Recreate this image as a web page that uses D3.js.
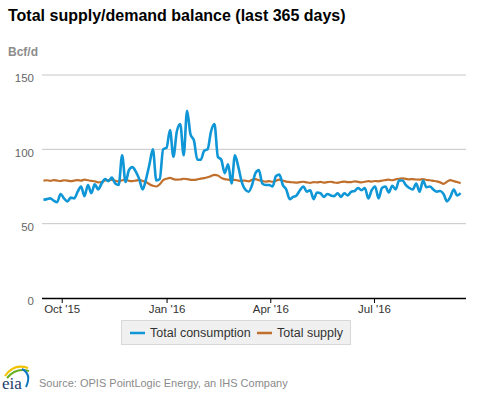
<!DOCTYPE html>
<html>
<head>
<meta charset="utf-8">
<script src="https://cdn.jsdelivr.net/npm/d3@7"></script>
<style>
  body { margin: 0; background: #fff; }
  svg { display: block; font-family: "Liberation Sans", Arial, sans-serif; }
</style>
</head>
<body>
<div id="chart"></div>
<script>
// Total supply/demand balance, last 365 days (one value every 3 days)

var start_date = new Date(2015, 8, 15);
var step_days = 3;

var consumption = [
  66, 66.5, 67, 65.5, 64.5, 70, 67, 65, 67.5, 67,
  71.5, 75, 68.5, 76, 70.5, 76.5, 73, 77, 80, 78.5,
  81, 77, 76, 96, 78, 86, 88, 85, 80, 73,
  80, 90, 100, 79, 80, 100, 101, 113, 95, 112,
  117, 96, 126, 110, 106, 93, 93, 99, 100, 112,
  117, 95, 93, 84, 90, 77, 96, 88, 78, 73,
  71.5, 76, 84, 86, 77, 76, 76, 75, 82, 83,
  76, 73, 66.5, 68, 69, 72.5, 75, 71.5, 72.5, 66.5,
  71, 70.5, 68, 70, 69, 68.5, 70.5, 68, 70.5, 69,
  71.5, 72, 74, 72.5, 74, 67, 72.5, 75, 67, 74,
  75, 71, 75.5, 73, 79, 79, 76, 74, 73, 77,
  71.5, 79, 74.5, 75, 73, 71.5, 72, 70, 65, 68,
  73, 69, 70.5
];

var supply = [
  79, 79.2, 78.8, 79.3, 79, 78.7, 79.2, 79, 78.6, 79,
  79.3, 79, 79.6, 79.2, 78.8, 78.5, 77.8, 78, 79, 79.3,
  79.5, 78.9, 78.3, 79.2, 79.5, 78.8, 78.6, 79, 79.4, 78.7,
  78, 76.5, 75.5, 75, 76.5, 79.3, 80.2, 80.8, 80, 79.6,
  79.7, 80.2, 80, 79.5, 79.4, 79.8, 80.3, 80.6, 81.2, 82,
  82.8, 82.4, 80.8, 80, 79.6, 79.2, 79.5, 79, 78.8, 79,
  78.5, 79.5, 80, 79.2, 78.7, 78.3, 78.6, 78.2, 78.8, 79.6,
  79, 78.3, 78, 77.8, 77.6, 78, 78.2, 77.8, 77.5, 77.9,
  77.8, 78.1, 77.6, 77.9, 78.2, 77.7, 77.5, 78, 78.3, 77.9,
  78, 78.4, 78.1, 77.8, 78.2, 78.6, 78.3, 78.7, 78.5, 79,
  79.3, 79.6, 79.2, 79.8, 80.2, 80.5, 80.1, 79.8, 80, 79.7,
  79.6, 80, 79.4, 79.2, 78.8, 78.4, 77.8, 76.8, 78.2, 79.3,
  78.6, 78, 77.3
];

var y_ticks = [0, 50, 100, 150];
var series_names = ["Total consumption", "Total supply"];
var series_colors = ["#0f96d6", "#c0702c"];

var width = 477;
var height = 393;

var plot_left = 42;
var plot_right = 466;
var plot_top = 75;
var plot_bottom = 298;

var svg = d3
  .select("#chart")
  .append("svg")
  .attr("width", width)
  .attr("height", height);

svg.append("rect").attr("width", width).attr("height", height).attr("fill", "#fff");

// title + unit
svg.append("text")
  .attr("x", 8)
  .attr("y", 21)
  .attr("font-size", 16)
  .attr("font-weight", "bold")
  .attr("fill", "#000")
  .text("Total supply/demand balance (last 365 days)");

svg.append("text")
  .attr("x", 8)
  .attr("y", 56)
  .attr("font-size", 12)
  .attr("font-weight", "bold")
  .attr("fill", "#8c8c8c")
  .text("Bcf/d");

// scales
var xScale = d3
  .scaleTime()
  .domain([new Date(2015, 8, 13, 17), new Date(2016, 8, 19, 17)])
  .range([plot_left, plot_right]);

var yScale = d3
  .scaleLinear()
  .domain([0, 150])
  .range([plot_bottom, plot_top]);

function dateAt(i) {
  return d3.timeDay.offset(start_date, i * step_days);
}

// grid lines
svg.append("g")
  .selectAll("line")
  .data(y_ticks.filter(function(d) { return d > 0; }))
  .enter()
  .append("line")
  .attr("x1", plot_left)
  .attr("x2", plot_right)
  .attr("y1", function(d) { return yScale(d); })
  .attr("y2", function(d) { return yScale(d); })
  .attr("stroke", "#c6c6c6")
  .attr("stroke-width", 1);

// y labels
var yAxis = d3.axisLeft(yScale).tickValues(y_ticks).tickSize(0).tickPadding(8);
var yG = svg.append("g")
  .attr("transform", "translate(" + plot_left + ",0)")
  .call(yAxis);
yG.select(".domain").remove();
yG.selectAll("text")
  .attr("font-size", 11.5)
  .attr("font-family", "Liberation Sans, Arial, sans-serif")
  .attr("fill", "#666")
  .attr("dy", "0.6em");

// x axis
var xAxis = d3
  .axisBottom(xScale)
  .ticks(d3.timeMonth.every(3))
  .tickFormat(d3.timeFormat("%b '%y"))
  .tickSize(5)
  .tickPadding(2);

var xG = svg.append("g")
  .attr("transform", "translate(0," + plot_bottom + ")")
  .call(xAxis);
xG.select(".domain")
  .attr("d", "M" + plot_left + ",0.5H" + plot_right)
  .attr("stroke", "#000")
  .attr("stroke-width", 1.5);
xG.selectAll(".tick line").attr("stroke", "#000");
xG.selectAll("text")
  .attr("font-size", 11.5)
  .attr("font-family", "Liberation Sans, Arial, sans-serif")
  .attr("fill", "#333");

// lines
var line = d3.line()
  .x(function(d, i) { return xScale(dateAt(i)); })
  .y(function(d) { return yScale(d); })
  .curve(d3.curveMonotoneX);

svg.append("path")
  .datum(supply)
  .attr("d", line)
  .attr("fill", "none")
  .attr("stroke", series_colors[1])
  .attr("stroke-width", 2.2);

svg.append("path")
  .datum(consumption)
  .attr("d", line)
  .attr("fill", "none")
  .attr("stroke", series_colors[0])
  .attr("stroke-width", 2.6)
  .attr("stroke-linejoin", "round");

// legend
var legend = svg.append("g").attr("transform", "translate(121,320)");
legend.append("rect")
  .attr("x", 0.5)
  .attr("y", 0.5)
  .attr("width", 229)
  .attr("height", 24)
  .attr("fill", "#f0f0f0")
  .attr("stroke", "#d8d8d8");

var legend_x = [9, 136];
series_names.forEach(function(name, i) {
  legend.append("line")
    .attr("x1", legend_x[i])
    .attr("x2", legend_x[i] + 15)
    .attr("y1", 13)
    .attr("y2", 13)
    .attr("stroke", series_colors[i])
    .attr("stroke-width", 2.5);
  legend.append("text")
    .attr("x", legend_x[i] + 20)
    .attr("y", 17)
    .attr("font-size", 12.5)
    .attr("fill", "#333")
    .text(name);
});

// eia logo + source
var logo = svg.append("g").attr("transform", "translate(0,360)");
logo.append("path")
  .attr("d", "M5,16 Q14,3 28,8")
  .attr("fill", "none")
  .attr("stroke", "#f2c200")
  .attr("stroke-width", 2);
logo.append("path")
  .attr("d", "M7,18 Q16,7 29,11")
  .attr("fill", "none")
  .attr("stroke", "#6ab023")
  .attr("stroke-width", 2);
logo.append("path")
  .attr("d", "M22,9 Q32,14 26,27")
  .attr("fill", "none")
  .attr("stroke", "#0f78c0")
  .attr("stroke-width", 2);
logo.append("text")
  .attr("x", 2)
  .attr("y", 29)
  .attr("font-family", "Liberation Serif, Times New Roman, serif")
  .attr("font-size", 17)
  .attr("fill", "#1a3e6e")
  .text("eia");

svg.append("text")
  .attr("x", 39)
  .attr("y", 387)
  .attr("font-size", 11)
  .attr("fill", "#8a8a8a")
  .text("Source: OPIS PointLogic Energy, an IHS Company");
</script>
</body>
</html>
